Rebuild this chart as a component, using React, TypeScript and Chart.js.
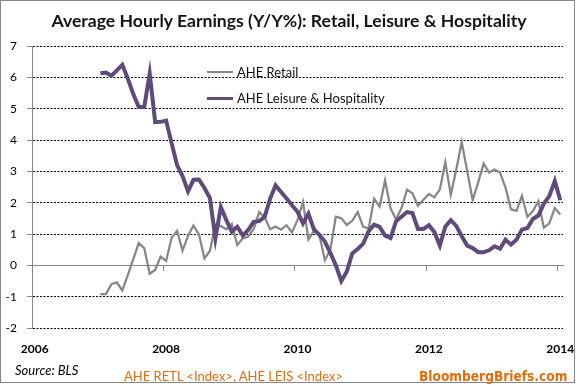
import React, { useEffect, useRef } from "react";
import { Chart, registerables } from "chart.js";

Chart.register(...registerables);

// ---- data ----
const TITLE = "Average Hourly Earnings (Y/Y%): Retail, Leisure & Hospitality";
const AXIS_START_YEAR = 2006;
const FIRST_DATA_MONTH = 12; // Jan 2007, counted in months from Jan 2006
const yearTicks = [2006, 2008, 2010, 2012, 2014];
const Y_MIN = -2;
const Y_MAX = 7;

// Y/Y % monthly, Jan 2007 .. Jan 2014
const retail = [
  -0.92, -0.92, -0.6, -0.54, -0.8, -0.31, 0.2, 0.71, 0.55, -0.27,
  -0.15, 0.28, 0.14, 0.88, 1.1, 0.47, 0.94, 1.27, 0.99, 0.22,
  0.46, 1.3, 1.25, 1.15, 1.32, 0.65, 0.86, 0.92, 1.16, 1.7,
  1.54, 1.15, 1.24, 1.14, 1.28, 1.05, 1.44, 2.02, 0.82, 1.1,
  0.96, 0.16, 0.5, 1.55, 1.5, 1.29, 1.42, 1.7, 1.23, 1.18,
  2.13, 1.87, 2.71, 1.81, 1.47, 1.83, 2.41, 2.3, 1.9, 2.09,
  2.28, 2.17, 2.42, 3.29, 2.25, 3.05, 3.93, 3.01, 2.08, 2.64,
  3.25, 2.96, 3.06, 2.96, 2.48, 1.79, 1.74, 2.22, 1.55, 1.73,
  2.05, 1.2, 1.34, 1.83, 1.62,
];
const leisure = [
  6.13, 6.15, 6.05, 6.22, 6.4, 5.96, 5.47, 5.05, 5.05, 6.12,
  4.57, 4.58, 4.62, 3.9, 3.2, 2.85, 2.36, 2.73, 2.74, 2.47,
  2.15, 0.86, 1.86, 1.44, 1.07, 1.23, 0.95, 1.13, 1.39, 1.41,
  1.55, 2.13, 2.55, 2.34, 2.13, 1.92, 1.71, 1.34, 1.65, 1.15,
  0.97, 0.76, 0.4, 0.0, -0.5, -0.2, 0.38, 0.52, 0.69, 1.09,
  1.3, 1.23, 0.95, 0.87, 1.41, 1.55, 1.7, 1.67, 1.16, 1.16,
  1.28, 1.06, 0.63, 1.23, 1.44, 1.26, 0.93, 0.63, 0.55, 0.42,
  0.42, 0.48, 0.61, 0.53, 0.82, 0.66, 0.82, 1.14, 1.19, 1.48,
  1.59, 1.97, 2.21, 2.69, 2.08,
];
const seriesLabels = ["AHE Retail", "AHE Leisure & Hospitality"];
const SOURCE = "Source: BLS";
const TICKERS = "AHE RETL <Index>, AHE LEIS <Index>";
const BRAND = "BloombergBriefs.com";

// ---- styles ----
const FONT = "Lato, 'Open Sans', sans-serif";
const AXIS_GRAY = "#868686";
const RETAIL_COLOR = "#878787";
const LEISURE_COLOR = "#604A7B";
const ORANGE = "#E46C0A";

const monthTicks = () => yearTicks.map((y) => ({ value: (y - AXIS_START_YEAR) * 12 }));

export default function App() {
  const ref = useRef<HTMLCanvasElement | null>(null);

  useEffect(() => {
    document.body.style.margin = "0";
    const toPoints = (arr: number[]) =>
      arr.map((v, i) => ({ x: FIRST_DATA_MONTH + i + 0.5, y: v }));
    const xMax = (yearTicks[yearTicks.length - 1] - AXIS_START_YEAR) * 12 + 1;

    const chart = new Chart(ref.current!, {
      type: "line",
      data: {
        datasets: [
          {
            label: seriesLabels[0],
            data: toPoints(retail),
            borderColor: RETAIL_COLOR,
            borderWidth: 2.25,
            pointRadius: 0,
            tension: 0,
            order: 2,
          },
          {
            label: seriesLabels[1],
            data: toPoints(leisure),
            borderColor: LEISURE_COLOR,
            borderWidth: 4,
            pointRadius: 0,
            tension: 0,
            order: 1,
          },
        ],
      },
      options: {
        responsive: false,
        animation: false,
        devicePixelRatio: 1,
        layout: { padding: { left: 0, right: 14, top: 46, bottom: 23 } },
        plugins: {
          legend: { display: false },
          tooltip: { enabled: false },
          title: { display: false },
        },
        scales: {
          x: {
            type: "linear",
            min: 0,
            max: xMax,
            position: "bottom",
            afterBuildTicks: (s: any) => {
              s.ticks = monthTicks();
            },
            afterFit: (s: any) => {
              s.height = 34;
              s.paddingLeft = 0;
              s.paddingRight = 0;
            },
            grid: { display: false, drawTicks: false },
            border: { display: false },
            ticks: {
              autoSkip: false,
              maxRotation: 0,
              padding: 14,
              labelOffset: 2.7,
              color: "#000",
              font: { family: FONT, size: 12, weight: "bold" },
              callback: (v: any) => String(AXIS_START_YEAR + Number(v) / 12),
            },
          },
          x0: {
            type: "linear",
            axis: "x",
            min: 0,
            max: xMax,
            position: { y: 0 },
            afterBuildTicks: (s: any) => {
              s.ticks = monthTicks();
            },
            afterFit: (s: any) => {
              s.paddingLeft = 0;
              s.paddingRight = 0;
            },
            grid: { drawOnChartArea: false, color: AXIS_GRAY, tickLength: 5 },
            border: { color: AXIS_GRAY, width: 1 },
            ticks: { display: false },
          },
          y: {
            min: Y_MIN,
            max: Y_MAX,
            afterFit: (s: any) => {
              s.width = 32;
              s.paddingTop = 0;
              s.paddingBottom = 0;
            },
            ticks: {
              stepSize: 1,
              padding: 10,
              color: "#000",
              font: { family: FONT, size: 12 },
            },
            grid: {
              color: (ctx: any) => (ctx.tick && ctx.tick.value === 0 ? "rgba(0,0,0,0)" : "#000"),
              tickColor: AXIS_GRAY,
              tickLength: 5,
              lineWidth: 1,
            },
            border: { color: AXIS_GRAY, width: 1, dash: [2, 1.5] },
          },
        },
      } as any,
    });
    return () => chart.destroy();
  }, []);

  const abs = (extra: React.CSSProperties): React.CSSProperties => ({
    position: "absolute",
    whiteSpace: "nowrap",
    ...extra,
  });

  return (
    <div style={{ position: "relative", width: 577, height: 385, background: "#fff", fontFamily: FONT }}>
      <canvas ref={ref} width={577} height={385} style={{ position: "absolute", left: 0, top: 0 }} />
      <div
        style={abs({
          left: 0,
          top: 0,
          width: 575,
          height: 383,
          boxSizing: "border-box",
          border: `1px solid ${AXIS_GRAY}`,
          pointerEvents: "none",
        })}
      />
      {/* title */}
      <div
        style={abs({
          left: 0,
          width: 578,
          top: 10,
          textAlign: "center",
          fontSize: 17.6,
          lineHeight: "22px",
          fontWeight: "bold",
          color: "#141414",
        })}
      >
        {TITLE}
      </div>
      {/* legend */}
      <div style={abs({ left: 207, top: 71, width: 26, height: 2, background: RETAIL_COLOR })} />
      <div style={abs({ left: 237, top: 64, fontSize: 13, lineHeight: "16px", color: "#111" })}>{seriesLabels[0]}</div>
      <div style={abs({ left: 207, top: 96.5, width: 26, height: 3, background: LEISURE_COLOR })} />
      <div style={abs({ left: 237, top: 90, fontSize: 13, lineHeight: "16px", color: "#111" })}>{seriesLabels[1]}</div>
      {/* footer */}
      <div style={abs({ left: 15, top: 362, fontSize: 13, lineHeight: "16px", fontStyle: "italic", color: "#000" })}>{SOURCE}</div>
      <div style={abs({ left: 124, top: 368, fontSize: 13, lineHeight: "16px", color: ORANGE })}>{TICKERS}</div>
      <div
        style={abs({
          left: 419,
          top: 368,
          fontSize: 13.6,
          lineHeight: "16px",
          fontWeight: "bold",
          color: ORANGE,
          fontFamily: "'DejaVu Sans Condensed', 'DejaVu Sans', sans-serif",
        })}
      >
        {BRAND}
      </div>
    </div>
  );
}
